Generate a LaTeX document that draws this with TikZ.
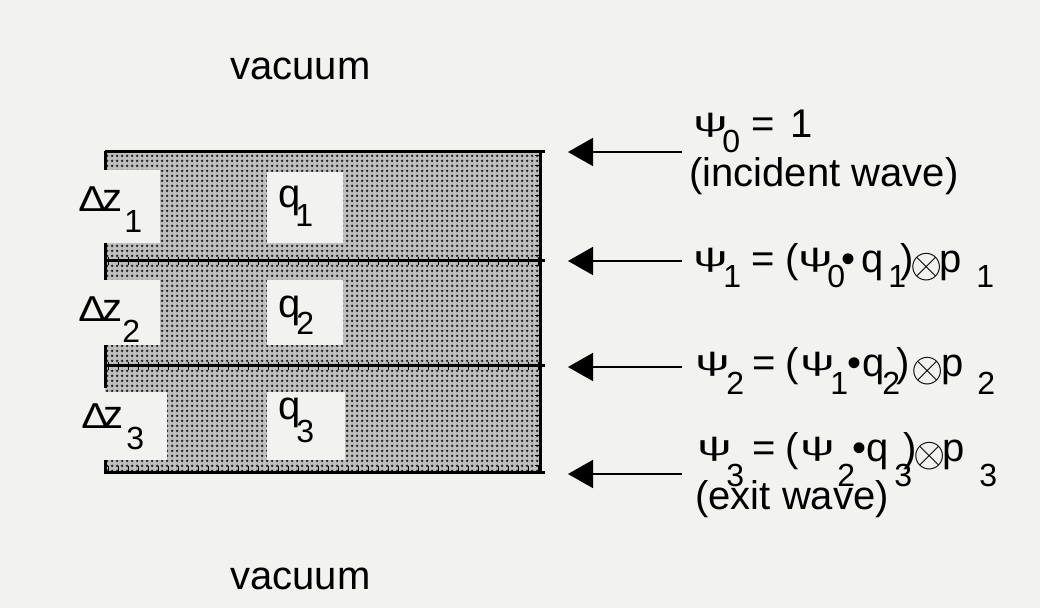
\documentclass[tikz,border=0pt]{standalone}
\usepackage{fontspec}
\usepackage{graphicx}
\setmainfont{Liberation Sans}
\usetikzlibrary{arrows.meta,patterns.meta}
% place #3 at x offset #1 px, lowered by #2 px (1px = 0.5pt)
\newcommand\pp[3]{\makebox[0pt][l]{\hspace{\dimexpr #1pt/2\relax}\raisebox{\dimexpr -#2pt/2\relax}{#3}}}
\newcommand\sd{\fontsize{16}{16}\selectfont}
\newcommand\psy{\raisebox{3pt}{\scalebox{1.2}[0.7]{ψ}}}
\newcommand\otm{{\fontsize{21}{21}\selectfont\raisebox{-2.5pt}{$\otimes$}}}
\newcommand\dlt{{\fontsize{18}{18}\selectfont\scalebox{1.15}[1]{Δ}}}
\definecolor{paper}{RGB}{242,242,241}
\tikzdeclarepattern{
  name=stip,
  type=uncolored,
  bottom left={(0pt,0pt)},
  top right={(2.5pt,2.5pt)},
  tile size={(2.5pt,2.5pt)},
  code={
    \pgfpathcircle{\pgfqpoint{1.25pt}{1.25pt}}{0.85pt}
    \pgfusepath{fill}
  }
}
\begin{document}
\begin{tikzpicture}[x=0.5pt,y=-0.5pt,
  lbl/.style={anchor=base west, inner sep=0pt, font=\fontsize{20}{24}\selectfont},
  edge/.style={line width=1.5pt},
  ticks/.style={line width=4pt, dash pattern=on 0.6pt off 4.4pt},
  win/.style={fill=paper, draw=none},
  arr/.style={line width=0.8pt, -{Triangle[length=12.5pt,width=14pt]}}]
\useasboundingbox (0,0) rectangle (1040,608);
\fill[paper] (0,0) rectangle (1040,608);
% specimen
\fill[gray!50] (105,152) rectangle (540,473);
\fill[pattern=stip, pattern color=black!85] (105,152) rectangle (540,473);
% white windows
\fill[win] (105,170) rectangle (160,243);
\fill[win] (267,172) rectangle (343,243);
\fill[win] (105,280) rectangle (160,345);
\fill[win] (267,280) rectangle (343,345);
\fill[win] (105,392) rectangle (167,460);
\fill[win] (267,392) rectangle (345,460);
% slice boundaries
\draw[edge] (105,152) -- (545,152);
\draw[edge] (105,261) -- (545,261);
\draw[edge] (105,366) -- (545,366);
\draw[edge] (105,473) -- (545,473);
\draw[edge] (540,152) -- (540,473);
\draw[ticks] (108,261) -- (540,261);
\draw[ticks] (108,366) -- (540,366);
\draw[ticks] (108,470) -- (540,470);
\draw[line width=2.5pt, dash pattern=on 0.6pt off 4.4pt] (537,155) -- (537,473);
% left edge marks
\draw[line width=1.5pt] (105,151) -- (105,170);
\draw[line width=1.5pt] (105,243) -- (105,280);
\draw[line width=1.5pt] (105,345) -- (105,388);
\draw[line width=1.5pt] (105,460) -- (105,474);
% labels
\node[lbl] (vac1) at (230,80) {vacuum};
\node[lbl] (vac2) at (230,590) {vacuum};
\node[lbl] (dz1) at (77,212) {\pp{0}{0}{\dlt}\pp{24}{0}{z}\pp{46}{21}{\sd 1}\hspace{30pt}};
\node[lbl] (dz2) at (77,322) {\pp{0}{0}{\dlt}\pp{24}{0}{z}\pp{44}{21}{\sd 2}\hspace{30pt}};
\node[lbl] (dz3) at (80,429) {\pp{0}{0}{\dlt}\pp{22}{0}{z}\pp{45}{21}{\sd 3}\hspace{30pt}};
\node[lbl] (q1) at (277,208) {\pp{0}{0}{q}\pp{17}{19}{\sd 1}\hspace{16pt}};
\node[lbl] (q2) at (277,318) {\pp{0}{0}{q}\pp{18}{17}{\sd 2}\hspace{16pt}};
\node[lbl] (q3) at (277,420) {\pp{0}{0}{q}\pp{18}{23}{\sd 3}\hspace{16pt}};
% right formulas
\node[lbl] (t0) at (692,138) {\pp{0}{0}{\psy}\pp{29}{15}{\sd 0}\pp{58}{0}{=}\pp{97}{0}{1}\hspace{56pt}};
\node[lbl] (t0b) at (689,187) {(incident wave)};
\node[lbl] (t1) at (692,273) {\pp{0}{0}{\psy}\pp{30}{15}{\sd 1}\pp{58}{0}{=}\pp{92}{0}{(}\pp{105}{0}{\psy}\pp{134}{15}{\sd 0}\pp{148}{0}{•}\pp{168}{0}{q}\pp{195}{15}{\sd 1}\pp{207}{0}{)}\pp{217}{0}{\otm}\pp{246}{0}{p}\pp{283}{15}{\sd 1}\hspace{148pt}};
\node[lbl] (t2) at (692,377) {\pp{2}{0}{\psy}\pp{33}{18}{\sd 2}\pp{59}{0}{=}\pp{92}{0}{(}\pp{107}{0}{\psy}\pp{137}{18}{\sd 1}\pp{154}{0}{•}\pp{169}{0}{q}\pp{189}{18}{\sd 2}\pp{203}{0}{)}\pp{218}{0}{\otm}\pp{248}{0}{p}\pp{284}{18}{\sd 2}\hspace{150pt}};
\node[lbl] (t3) at (692,462) {\pp{4}{0}{\psy}\pp{33}{25}{\sd 3}\pp{59}{0}{=}\pp{92}{0}{(}\pp{107}{0}{\psy}\pp{144}{25}{\sd 2}\pp{159}{0}{•}\pp{173}{0}{q}\pp{201}{25}{\sd 3}\pp{210}{0}{)}\pp{220}{0}{\otm}\pp{249}{0}{p}\pp{286}{25}{\sd 3}\hspace{151pt}};
\node[lbl] (t3b) at (695,510) {(exit wave)};
% arrows
\coordinate (s0) at (682,152); \coordinate (e0) at (568,152);
\coordinate (s1) at (682,261); \coordinate (e1) at (568,261);
\coordinate (s2) at (682,367); \coordinate (e2) at (568,367);
\coordinate (s3) at (682,474); \coordinate (e3) at (568,474);
\draw[arr] (s0) -- (e0);
\draw[arr] (s1) -- (e1);
\draw[arr] (s2) -- (e2);
\draw[arr] (s3) -- (e3);
\end{tikzpicture}
\end{document}
